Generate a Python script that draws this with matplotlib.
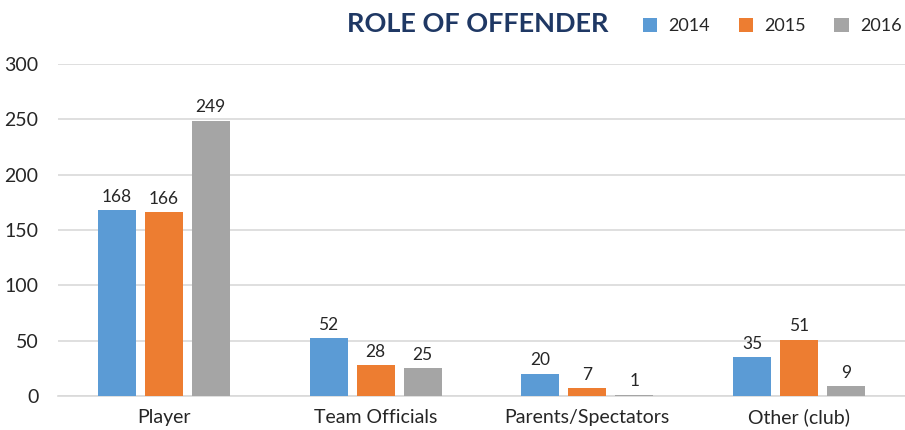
import matplotlib
matplotlib.use("Agg")
import matplotlib.pyplot as plt
import numpy as np

categories = ["Player", "Team Officials", "Parents/Spectators", "Other (club)"]
years = ["2014", "2015", "2016"]
v2014 = [168, 52, 20, 35]
v2015 = [166, 28, 7, 51]
v2016 = [249, 25, 1, 9]
colors = ["#5B9BD5", "#ED7D31", "#A5A5A5"]

plt.rcParams['font.family'] = ['Lato', 'DejaVu Sans']

fig = plt.figure(figsize=(9.05, 4.3), dpi=100)
ax = fig.add_axes([0.064, 0.079, 0.936, 0.772])

x = np.arange(len(categories))
w = 0.18
step = 0.222
for i, (vals, c, yr) in enumerate(zip([v2014, v2015, v2016], colors, years)):
    bars = ax.bar(x + (i - 1) * step, vals, w, color=c, label=yr, zorder=3)
    for b, v in zip(bars, vals):
        ax.text(b.get_x() + b.get_width() / 2, v + 5, str(v), ha="center", va="bottom",
                fontsize=12.5, color="#262626")

ax.set_xlim(-0.5, len(categories) - 0.5)
ax.set_ylim(0, 300)
ax.set_yticks(range(0, 301, 50))
ax.set_xticks(x)
ax.set_xticklabels(categories, fontsize=14, color="#262626")
ax.tick_params(axis="y", labelsize=14, colors="#262626", length=0, pad=14)
ax.tick_params(axis="x", length=0, pad=9)
ax.yaxis.grid(True, color="#D9D9D9", linewidth=1.2, zorder=0)
for s in ["top", "right", "left"]:
    ax.spines[s].set_visible(False)
ax.spines["bottom"].set_color("#D9D9D9")
ax.spines["bottom"].set_linewidth(1.2)

fig.text(0.528, 0.945, "ROLE OF OFFENDER", ha="center", va="center", fontsize=19.5,
         fontweight="bold", color="#1F3864")
fig.legend(loc="center right", bbox_to_anchor=(0.998, 0.94), ncol=3, frameon=False,
           fontsize=13, handlelength=0.8, handleheight=0.8, columnspacing=1.6,
           handletextpad=0.6, labelcolor="#262626", borderaxespad=0, borderpad=0.1)

fig.savefig("out.png", dpi=100)
